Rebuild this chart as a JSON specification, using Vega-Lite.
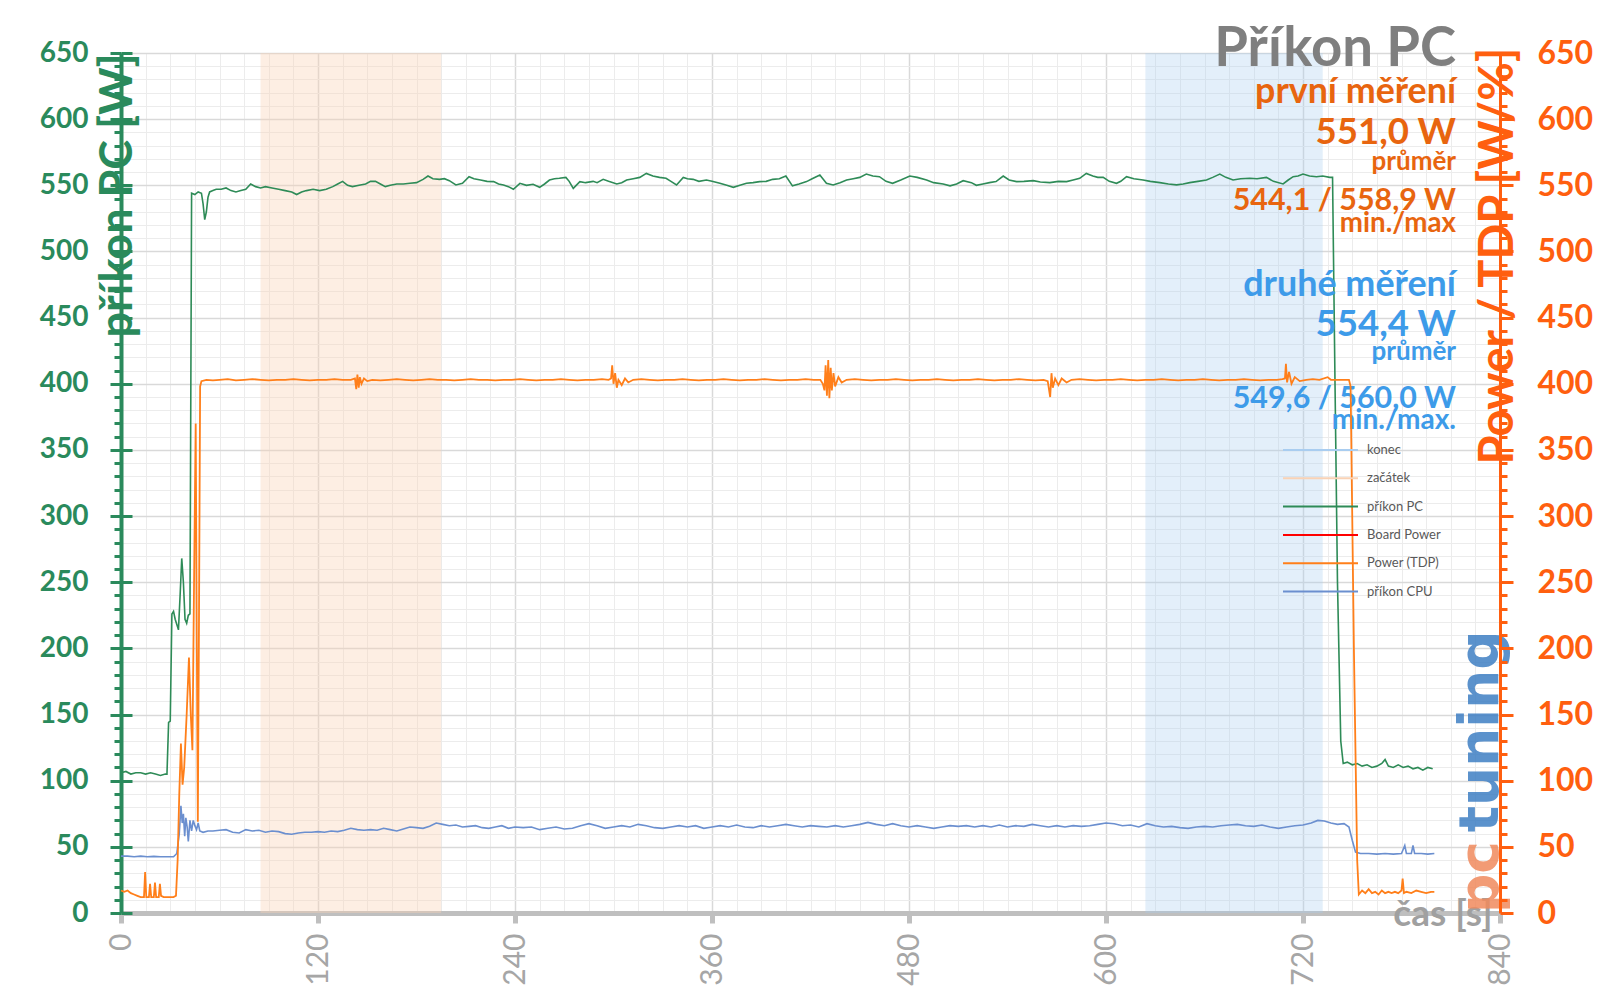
{
"$schema": "https://vega.github.io/schema/vega-lite/v6.json",
"width": 1379, "height": 860,
"autosize": {"type": "none"},
"padding": {"left": 121, "top": 53, "right": 100, "bottom": 95},
"background": "white",
"config": {"view": {"stroke": null}, "font": "Lato", "axis": {"labelFont": "Lato", "titleFont": "Lato"}},
"datasets": {
"one": [{"a": 0}],
"bands": [{"start": 85, "end": 195, "name": "začátek"}, {"start": 624, "end": 732, "name": "konec"}],
"pc": [
{"t":0,"v":106},{"t":3,"v":107},{"t":6,"v":105},{"t":9,"v":106},{"t":12,"v":106},{"t":15,"v":105},{"t":18,"v":106},{"t":21,"v":105},{"t":24,"v":104},{"t":27,"v":105},{"t":28,"v":105},{"t":29,"v":144},{"t":30,"v":145},{"t":31,"v":226},{"t":32,"v":228},{"t":33,"v":222},{"t":34,"v":218},{"t":35,"v":214},{"t":36,"v":240},{"t":37,"v":268},{"t":38,"v":250},{"t":39,"v":222},{"t":40,"v":219},{"t":41,"v":225},{"t":42,"v":226},{"t":43,"v":544},{"t":45,"v":543},{"t":47,"v":545},{"t":49,"v":544},{"t":50,"v":536},{"t":51,"v":524},{"t":52,"v":530},{"t":53,"v":541},{"t":54,"v":545},{"t":56,"v":546},{"t":58,"v":547},{"t":61,"v":547},{"t":64,"v":548},{"t":67,"v":546},{"t":70,"v":545},{"t":73,"v":546},{"t":76,"v":547},{"t":79,"v":551},{"t":82,"v":549},{"t":85,"v":548},{"t":88,"v":549},{"t":92,"v":548},{"t":96,"v":547},{"t":100,"v":546},{"t":104,"v":545},{"t":107,"v":543},{"t":110,"v":545},{"t":113,"v":546},{"t":117,"v":547},{"t":121,"v":546},{"t":125,"v":547},{"t":129,"v":549},{"t":132,"v":551},{"t":135,"v":553},{"t":138,"v":550},{"t":141,"v":549},{"t":145,"v":550},{"t":149,"v":551},{"t":152,"v":553},{"t":155,"v":553},{"t":158,"v":551},{"t":161,"v":549},{"t":164,"v":550},{"t":168,"v":551},{"t":172,"v":551},{"t":176,"v":551.5},{"t":180,"v":552},{"t":184,"v":554.5},{"t":187,"v":557},{"t":190,"v":555},{"t":194,"v":554.5},{"t":197,"v":555},{"t":200,"v":553.5},{"t":204,"v":550.3},{"t":208,"v":551.5},{"t":212,"v":556.5},{"t":215,"v":555},{"t":219,"v":554},{"t":223,"v":553},{"t":227,"v":552.8},{"t":230,"v":551},{"t":233,"v":550.3},{"t":236,"v":549},{"t":239,"v":547},{"t":243,"v":551.5},{"t":247,"v":550},{"t":251,"v":550.8},{"t":255,"v":548.5},{"t":258,"v":551},{"t":261,"v":554},{"t":264,"v":555},{"t":267,"v":555.3},{"t":271,"v":556},{"t":273,"v":553},{"t":275.5,"v":547.7},{"t":279.5,"v":552.8},{"t":283,"v":552},{"t":287.6,"v":553},{"t":290,"v":552},{"t":293.7,"v":554.5},{"t":297,"v":553},{"t":302,"v":551},{"t":305,"v":552},{"t":308,"v":554},{"t":312,"v":555},{"t":316,"v":556},{"t":320,"v":559},{"t":324,"v":557},{"t":328,"v":556},{"t":332,"v":555.3},{"t":335,"v":553},{"t":338.4,"v":550.3},{"t":342.5,"v":556},{"t":345,"v":555},{"t":348.5,"v":554.5},{"t":352,"v":553},{"t":356.6,"v":554},{"t":360,"v":553},{"t":364.8,"v":551.5},{"t":369,"v":550},{"t":373,"v":548.5},{"t":377,"v":550},{"t":381,"v":551.5},{"t":385,"v":552},{"t":389,"v":552.8},{"t":393,"v":553},{"t":397,"v":554.5},{"t":401,"v":555},{"t":405,"v":557},{"t":409,"v":549.6},{"t":413,"v":551},{"t":417.6,"v":552.8},{"t":421,"v":555},{"t":425.7,"v":557.8},{"t":429.7,"v":551.5},{"t":433.8,"v":550.3},{"t":438,"v":552},{"t":442,"v":554},{"t":446,"v":555},{"t":450,"v":556},{"t":454,"v":558.5},{"t":458,"v":557},{"t":462,"v":556.5},{"t":466,"v":553},{"t":470,"v":551.5},{"t":475,"v":554},{"t":480.5,"v":557},{"t":485,"v":556},{"t":490.7,"v":554},{"t":495,"v":552},{"t":500.8,"v":551},{"t":505,"v":549.6},{"t":509,"v":551},{"t":513,"v":553.5},{"t":518,"v":552},{"t":521,"v":550},{"t":525,"v":551},{"t":529,"v":552},{"t":533,"v":552.8},{"t":537.4,"v":557},{"t":541,"v":554},{"t":545.5,"v":552.8},{"t":550,"v":553},{"t":555.7,"v":553.5},{"t":560,"v":552.5},{"t":565.8,"v":552},{"t":571,"v":553},{"t":576,"v":552.8},{"t":580,"v":554},{"t":584,"v":555.3},{"t":588,"v":559},{"t":592,"v":557},{"t":595,"v":556},{"t":598.3,"v":556},{"t":602,"v":553},{"t":606.4,"v":551.5},{"t":609,"v":553},{"t":612.5,"v":556.5},{"t":617,"v":555},{"t":622.6,"v":554},{"t":627,"v":553},{"t":632.8,"v":552},{"t":638,"v":551},{"t":643,"v":550.3},{"t":647,"v":551},{"t":651,"v":552},{"t":656,"v":553},{"t":661.2,"v":554},{"t":665,"v":556},{"t":669.3,"v":558.5},{"t":673,"v":556},{"t":677.4,"v":554},{"t":682,"v":555},{"t":687.6,"v":555.3},{"t":692,"v":555},{"t":697.7,"v":556},{"t":702,"v":553},{"t":707.9,"v":551},{"t":711,"v":554},{"t":714,"v":556.5},{"t":717,"v":557},{"t":720,"v":558.5},{"t":724,"v":557},{"t":728.2,"v":556.5},{"t":732,"v":557},{"t":736.3,"v":556},{"t":738,"v":556},{"t":739.5,"v":400},{"t":741,"v":250},{"t":743,"v":130},{"t":744.5,"v":113},{"t":747,"v":114},{"t":750,"v":112},{"t":753,"v":113},{"t":756,"v":111},{"t":759,"v":112},{"t":762,"v":110},{"t":765,"v":111},{"t":768,"v":113},{"t":770,"v":116},{"t":772,"v":111},{"t":775,"v":110},{"t":778,"v":112},{"t":781,"v":110},{"t":784,"v":111},{"t":787,"v":109},{"t":790,"v":110},{"t":793,"v":108},{"t":796,"v":110},{"t":799,"v":109}
],
"tdp": [
{"t":0,"v":17},{"t":2,"v":16},{"t":4,"v":17},{"t":6,"v":15},{"t":8,"v":14},{"t":10,"v":13},{"t":12,"v":12},{"t":14,"v":12},{"t":14.7,"v":31},{"t":15.4,"v":12},{"t":17,"v":12},{"t":17.7,"v":22},{"t":18.4,"v":12},{"t":20,"v":12},{"t":20.7,"v":23},{"t":21.4,"v":12},{"t":23,"v":12},{"t":23.7,"v":22},{"t":24.4,"v":13},{"t":26,"v":12},{"t":28,"v":12},{"t":30,"v":12},{"t":32,"v":12},{"t":33.5,"v":13},{"t":34.5,"v":40},{"t":35.5,"v":90},{"t":36.5,"v":128},{"t":37.5,"v":97},{"t":38.5,"v":110},{"t":40,"v":150},{"t":41.4,"v":193},{"t":42.5,"v":150},{"t":43.5,"v":123},{"t":44.5,"v":250},{"t":45.5,"v":370},{"t":46.2,"v":200},{"t":46.8,"v":69},{"t":47.5,"v":220},{"t":48.2,"v":398},{"t":49,"v":402},{"t":52,"v":403},{"t":56,"v":402.5},{"t":60,"v":403},{"t":65,"v":403.5},{"t":70,"v":402.5},{"t":75,"v":403},{"t":80,"v":403.5},{"t":85,"v":403},{"t":90,"v":402.5},{"t":95,"v":403},{"t":100,"v":403},{"t":105,"v":403.5},{"t":110,"v":403},{"t":115,"v":402.5},{"t":120,"v":403},{"t":125,"v":403},{"t":130,"v":403.5},{"t":135,"v":403},{"t":140,"v":403},{"t":142.5,"v":404},{"t":143.3,"v":396},{"t":144,"v":407},{"t":144.8,"v":397},{"t":145.5,"v":405},{"t":146.5,"v":400},{"t":148,"v":404},{"t":150,"v":402},{"t":153,"v":403},{"t":158,"v":402.5},{"t":163,"v":403},{"t":168,"v":403.5},{"t":173,"v":403},{"t":178,"v":402.5},{"t":183,"v":403},{"t":188,"v":403.5},{"t":193,"v":403},{"t":198,"v":403},{"t":203,"v":402.5},{"t":208,"v":403},{"t":213,"v":403.5},{"t":218,"v":403},{"t":223,"v":403},{"t":228,"v":402.5},{"t":233,"v":403},{"t":238,"v":403},{"t":243,"v":403.5},{"t":248,"v":403},{"t":253,"v":402.5},{"t":258,"v":403},{"t":263,"v":403},{"t":268,"v":403.5},{"t":273,"v":403},{"t":278,"v":402.5},{"t":283,"v":403},{"t":288,"v":403},{"t":293,"v":403.5},{"t":297,"v":403},{"t":298.5,"v":404},{"t":299.2,"v":414},{"t":300,"v":400},{"t":301,"v":408},{"t":302,"v":397},{"t":303,"v":403},{"t":305,"v":399},{"t":307,"v":404},{"t":309,"v":401},{"t":312,"v":403},{"t":317,"v":403.5},{"t":322,"v":403},{"t":327,"v":402.5},{"t":332,"v":403},{"t":337,"v":403},{"t":342,"v":403.5},{"t":347,"v":403},{"t":352,"v":402.5},{"t":357,"v":403},{"t":362,"v":403},{"t":367,"v":403.5},{"t":372,"v":403},{"t":377,"v":402.5},{"t":382,"v":403},{"t":387,"v":403},{"t":392,"v":403.5},{"t":397,"v":403},{"t":402,"v":402.5},{"t":407,"v":403},{"t":412,"v":403},{"t":417,"v":403.5},{"t":422,"v":403},{"t":426,"v":403},{"t":427.5,"v":400},{"t":428.5,"v":395},{"t":429.2,"v":414},{"t":430,"v":391},{"t":430.8,"v":418},{"t":431.5,"v":389},{"t":432.3,"v":412},{"t":433,"v":395},{"t":434,"v":408},{"t":435,"v":398},{"t":437,"v":405},{"t":439,"v":401},{"t":442,"v":403},{"t":447,"v":403.5},{"t":452,"v":403},{"t":457,"v":402.5},{"t":462,"v":403},{"t":467,"v":403},{"t":472,"v":403.5},{"t":477,"v":403},{"t":482,"v":402.5},{"t":487,"v":403},{"t":492,"v":403},{"t":497,"v":403.5},{"t":502,"v":403},{"t":507,"v":402.5},{"t":512,"v":403},{"t":517,"v":403},{"t":522,"v":403.5},{"t":527,"v":403},{"t":532,"v":402.5},{"t":537,"v":403},{"t":542,"v":403},{"t":547,"v":403.5},{"t":552,"v":403},{"t":557,"v":402.5},{"t":562,"v":403},{"t":564.5,"v":402},{"t":566,"v":390},{"t":566.8,"v":408},{"t":567.6,"v":397},{"t":569,"v":404},{"t":571,"v":399},{"t":573,"v":404},{"t":576,"v":401},{"t":579,"v":403},{"t":584,"v":403.5},{"t":589,"v":403},{"t":594,"v":402.5},{"t":599,"v":403},{"t":604,"v":403},{"t":609,"v":403.5},{"t":614,"v":403},{"t":619,"v":402.5},{"t":624,"v":403},{"t":629,"v":403},{"t":634,"v":403.5},{"t":639,"v":403},{"t":644,"v":402.5},{"t":649,"v":403},{"t":654,"v":403},{"t":659,"v":403.5},{"t":664,"v":403},{"t":669,"v":402.5},{"t":674,"v":403},{"t":679,"v":403},{"t":684,"v":403.5},{"t":689,"v":403},{"t":694,"v":402.5},{"t":699,"v":403},{"t":704,"v":403},{"t":707.5,"v":403.5},{"t":709,"v":404},{"t":709.6,"v":415},{"t":710.3,"v":401},{"t":711.5,"v":409},{"t":713,"v":400},{"t":715,"v":405},{"t":718,"v":402},{"t":722,"v":403},{"t":726,"v":403.5},{"t":730,"v":403},{"t":735,"v":405},{"t":737,"v":403},{"t":741,"v":403},{"t":745,"v":403},{"t":748,"v":403},{"t":749,"v":398},{"t":751,"v":200},{"t":753,"v":40},{"t":754,"v":14},{"t":756,"v":17},{"t":758,"v":15},{"t":760,"v":18},{"t":762,"v":15},{"t":764,"v":16},{"t":766,"v":14},{"t":768,"v":17},{"t":770,"v":15},{"t":772,"v":16},{"t":774,"v":15},{"t":776,"v":16},{"t":778,"v":15},{"t":780,"v":17},{"t":780.7,"v":26},{"t":781.5,"v":15},{"t":783,"v":16},{"t":786,"v":15},{"t":789,"v":17},{"t":792,"v":16},{"t":795,"v":15},{"t":798,"v":16},{"t":800,"v":16}
],
"cpu": [
{"t":0,"v":43},{"t":4,"v":43},{"t":8,"v":42.5},{"t":12,"v":43},{"t":16,"v":42.5},{"t":20,"v":42.8},{"t":24,"v":42.5},{"t":28,"v":42.5},{"t":32,"v":42.5},{"t":34,"v":45},{"t":35.5,"v":60},{"t":36.5,"v":81},{"t":37.3,"v":68},{"t":38,"v":75},{"t":38.8,"v":58},{"t":39.5,"v":72},{"t":40.3,"v":65},{"t":41,"v":54},{"t":42,"v":70},{"t":43,"v":62},{"t":44,"v":70},{"t":45,"v":66},{"t":46,"v":63},{"t":47,"v":68},{"t":48,"v":62},{"t":50,"v":61},{"t":53,"v":62},{"t":56,"v":62},{"t":60,"v":62.5},{"t":64,"v":63},{"t":68,"v":61},{"t":72,"v":60.5},{"t":76,"v":63},{"t":80,"v":62},{"t":84,"v":62.5},{"t":88,"v":61},{"t":92,"v":62},{"t":96,"v":61.5},{"t":100,"v":60},{"t":104,"v":59.5},{"t":108,"v":60.5},{"t":112,"v":61},{"t":116,"v":61},{"t":120,"v":61.5},{"t":124,"v":61},{"t":128,"v":62},{"t":132,"v":61.5},{"t":136,"v":62.5},{"t":140,"v":64},{"t":144,"v":63},{"t":148,"v":62.5},{"t":152,"v":63},{"t":156,"v":62.5},{"t":160,"v":64},{"t":164,"v":63},{"t":168,"v":62},{"t":172,"v":63.5},{"t":176,"v":65},{"t":180,"v":64.5},{"t":184,"v":64},{"t":188,"v":65.5},{"t":192,"v":68},{"t":196,"v":67},{"t":200,"v":66},{"t":204,"v":66.5},{"t":208,"v":65},{"t":212,"v":65.5},{"t":216,"v":66},{"t":220,"v":64.5},{"t":224,"v":64},{"t":228,"v":65},{"t":232,"v":66},{"t":236,"v":64},{"t":240,"v":65},{"t":245,"v":64.5},{"t":250,"v":65},{"t":255,"v":63},{"t":260,"v":64},{"t":265,"v":65},{"t":270,"v":63.5},{"t":275,"v":64},{"t":280,"v":66},{"t":285,"v":67.5},{"t":290,"v":66},{"t":295,"v":64},{"t":300,"v":65},{"t":305,"v":66},{"t":310,"v":65},{"t":315,"v":67},{"t":320,"v":66},{"t":325,"v":64.5},{"t":330,"v":64},{"t":335,"v":65},{"t":340,"v":66},{"t":345,"v":65},{"t":350,"v":66},{"t":355,"v":64},{"t":360,"v":65},{"t":365,"v":66},{"t":370,"v":65},{"t":375,"v":66.5},{"t":380,"v":65},{"t":385,"v":64.5},{"t":390,"v":66},{"t":395,"v":65},{"t":400,"v":66},{"t":405,"v":67},{"t":410,"v":66},{"t":415,"v":65},{"t":420,"v":66},{"t":425,"v":65.5},{"t":430,"v":65},{"t":435,"v":66},{"t":440,"v":65},{"t":445,"v":66},{"t":450,"v":67},{"t":455,"v":68.5},{"t":460,"v":67},{"t":465,"v":66},{"t":470,"v":67.5},{"t":475,"v":66},{"t":480,"v":65},{"t":485,"v":66},{"t":490,"v":65},{"t":495,"v":64},{"t":500,"v":65},{"t":505,"v":66},{"t":510,"v":65.5},{"t":515,"v":66},{"t":520,"v":65},{"t":525,"v":66},{"t":530,"v":65},{"t":535,"v":66.5},{"t":540,"v":65},{"t":545,"v":66},{"t":550,"v":65.5},{"t":555,"v":67},{"t":560,"v":66},{"t":565,"v":65},{"t":570,"v":66},{"t":575,"v":65},{"t":580,"v":66},{"t":585,"v":65.5},{"t":590,"v":66},{"t":595,"v":67},{"t":600,"v":68},{"t":605,"v":67.5},{"t":610,"v":66},{"t":615,"v":66.5},{"t":620,"v":65},{"t":625,"v":67.5},{"t":630,"v":66},{"t":635,"v":65},{"t":640,"v":65.5},{"t":645,"v":64.5},{"t":650,"v":64},{"t":655,"v":65},{"t":660,"v":65.5},{"t":665,"v":65},{"t":670,"v":66},{"t":675,"v":66.5},{"t":680,"v":67},{"t":685,"v":66},{"t":690,"v":65.5},{"t":695,"v":66.5},{"t":700,"v":65},{"t":705,"v":64},{"t":710,"v":65},{"t":715,"v":66},{"t":720,"v":66.5},{"t":725,"v":68},{"t":729,"v":70},{"t":733,"v":69.5},{"t":737,"v":68},{"t":741,"v":67},{"t":745,"v":67.5},{"t":748,"v":65},{"t":750,"v":55},{"t":752,"v":46},{"t":755,"v":45},{"t":760,"v":45},{"t":765,"v":44.5},{"t":770,"v":45},{"t":775,"v":44.5},{"t":780,"v":45},{"t":782,"v":51},{"t":783,"v":45},{"t":786,"v":45},{"t":787,"v":51},{"t":788,"v":45},{"t":792,"v":45},{"t":796,"v":44.5},{"t":800,"v":45}
]
},
"layer": [
{
"data": {"name": "one"},
"mark": {"type": "point", "opacity": 0},
"encoding": {
"x": {"datum": 0, "type": "quantitative", "scale": {"domain": [0, 840], "nice": false},
 "axis": {"orient": "bottom", "values": [15,30,45,60,75,90,105,135,150,165,180,195,210,225,255,270,285,300,315,330,345,375,390,405,420,435,450,465,495,510,525,540,555,570,585,615,630,645,660,675,690,705,735,750,765,780,795,810,825], "grid": true, "gridColor": "#ececec", "gridWidth": 1, "labels": false, "ticks": false, "domain": false, "title": null}},
"y": {"datum": 0, "type": "quantitative", "scale": {"domain": [0, 650], "nice": false},
 "axis": {"orient": "left", "values": [10,20,30,40,60,70,80,90,110,120,130,140,160,170,180,190,210,220,230,240,260,270,280,290,310,320,330,340,360,370,380,390,410,420,430,440,460,470,480,490,510,520,530,540,560,570,580,590,610,620,630,640], "grid": true, "gridColor": "#ececec", "gridWidth": 1, "labels": false, "ticks": true, "tickSize": 7, "tickWidth": 3, "tickColor": "#2a8a5c", "domain": false, "title": null}}
}
},
{
"layer": [
{"data": {"name": "bands"}, "transform": [{"filter": "datum.name == 'začátek'"}],
 "mark": {"type": "rect", "color": "#f9d2b5", "opacity": 0.38},
 "encoding": {"x": {"field": "start", "type": "quantitative"}, "x2": {"field": "end"}}},
{"data": {"name": "bands"}, "transform": [{"filter": "datum.name == 'konec'"}],
 "mark": {"type": "rect", "color": "#a9cdf0", "opacity": 0.32},
 "encoding": {"x": {"field": "start", "type": "quantitative"}, "x2": {"field": "end"}}},
{"data": {"name": "one"}, "mark": {"type": "text", "align": "left", "baseline": "alphabetic", "angle": 270, "font": "DejaVu Sans", "fontWeight": "bold", "fontSize": 55, "color": "#f08a5d", "opacity": 0.85},
 "encoding": {"x": {"datum": 839, "type": "quantitative"}, "y": {"datum": 0, "type": "quantitative"}, "text": {"value": "pc"}}},
{"data": {"name": "one"}, "mark": {"type": "text", "align": "left", "baseline": "alphabetic", "angle": 270, "font": "DejaVu Sans", "fontWeight": "bold", "fontSize": 55, "color": "#3f7fc4", "opacity": 0.85},
 "encoding": {"x": {"datum": 839, "type": "quantitative"}, "y": {"datum": 61, "type": "quantitative"}, "text": {"value": "tuning"}}},
{"data": {"name": "cpu"}, "mark": {"type": "line", "strokeWidth": 1.6},
 "encoding": {"x": {"field": "t", "type": "quantitative"}, "y": {"field": "v", "type": "quantitative"},
  "color": {"datum": "příkon CPU", "type": "nominal"}}},
{"data": {"name": "pc"}, "mark": {"type": "line", "strokeWidth": 1.6},
 "encoding": {"x": {"field": "t", "type": "quantitative"}, "y": {"field": "v", "type": "quantitative"},
  "color": {"datum": "příkon PC", "type": "nominal",
   "scale": {"domain": ["konec", "začátek", "příkon PC", "Board Power", "Power (TDP)", "příkon CPU"], "range": ["#a9cdf0", "#f9d2b5", "#2e8b57", "#ff0000", "#ff7f1a", "#6b8fcf"]},
   "legend": {"orient": "none", "legendX": 1188.5, "legendY": 386, "title": null, "direction": "vertical", "symbolType": "M-3.75,0H3.75", "symbolSize": 400, "symbolStrokeWidth": 2, "rowPadding": 10.3, "labelOffset": 35.5, "labelFontSize": 13, "labelColor": "#595959", "labelFont": "Lato", "padding": 0}}}},
{"data": {"name": "one"}, "mark": {"type": "text", "align": "right", "baseline": "alphabetic", "font": "Lato", "fontWeight": "bold", "fontSize": 54.5, "color": "#7f7f7f"},
 "encoding": {"x": {"datum": 813.2, "type": "quantitative"}, "y": {"datum": 640, "type": "quantitative"}, "text": {"value": "Příkon PC"}}},
{"data": {"name": "one"}, "mark": {"type": "text", "align": "right", "baseline": "alphabetic", "font": "Lato", "fontWeight": "bold", "fontSize": 35.8, "color": "#e8650f"},
 "encoding": {"x": {"datum": 813.2, "type": "quantitative"}, "y": {"datum": 612.5, "type": "quantitative"}, "text": {"value": "první měření"}}},
{"data": {"name": "one"}, "mark": {"type": "text", "align": "right", "baseline": "alphabetic", "font": "Lato", "fontWeight": "bold", "fontSize": 36.6, "color": "#e8650f"},
 "encoding": {"x": {"datum": 813.2, "type": "quantitative"}, "y": {"datum": 581, "type": "quantitative"}, "text": {"value": "551,0 W"}}},
{"data": {"name": "one"}, "mark": {"type": "text", "align": "right", "baseline": "alphabetic", "font": "Lato", "fontWeight": "bold", "fontSize": 26, "color": "#e8650f"},
 "encoding": {"x": {"datum": 813.2, "type": "quantitative"}, "y": {"datum": 561.5, "type": "quantitative"}, "text": {"value": "průměr"}}},
{"data": {"name": "one"}, "mark": {"type": "text", "align": "right", "baseline": "alphabetic", "font": "Lato", "fontWeight": "bold", "fontSize": 30.4, "color": "#e8650f"},
 "encoding": {"x": {"datum": 813.2, "type": "quantitative"}, "y": {"datum": 531, "type": "quantitative"}, "text": {"value": "544,1 / 558,9 W"}}},
{"data": {"name": "one"}, "mark": {"type": "text", "align": "right", "baseline": "alphabetic", "font": "Lato", "fontWeight": "bold", "fontSize": 27.7, "color": "#e8650f"},
 "encoding": {"x": {"datum": 813.2, "type": "quantitative"}, "y": {"datum": 515, "type": "quantitative"}, "text": {"value": "min./max"}}},
{"data": {"name": "one"}, "mark": {"type": "text", "align": "right", "baseline": "alphabetic", "font": "Lato", "fontWeight": "bold", "fontSize": 35.9, "color": "#3d9be9"},
 "encoding": {"x": {"datum": 813.2, "type": "quantitative"}, "y": {"datum": 466, "type": "quantitative"}, "text": {"value": "druhé měření"}}},
{"data": {"name": "one"}, "mark": {"type": "text", "align": "right", "baseline": "alphabetic", "font": "Lato", "fontWeight": "bold", "fontSize": 36.6, "color": "#3d9be9"},
 "encoding": {"x": {"datum": 813.2, "type": "quantitative"}, "y": {"datum": 436, "type": "quantitative"}, "text": {"value": "554,4 W"}}},
{"data": {"name": "one"}, "mark": {"type": "text", "align": "right", "baseline": "alphabetic", "font": "Lato", "fontWeight": "bold", "fontSize": 26, "color": "#3d9be9"},
 "encoding": {"x": {"datum": 813.2, "type": "quantitative"}, "y": {"datum": 418, "type": "quantitative"}, "text": {"value": "průměr"}}},
{"data": {"name": "one"}, "mark": {"type": "text", "align": "right", "baseline": "alphabetic", "font": "Lato", "fontWeight": "bold", "fontSize": 30.4, "color": "#3d9be9"},
 "encoding": {"x": {"datum": 813.2, "type": "quantitative"}, "y": {"datum": 382, "type": "quantitative"}, "text": {"value": "549,6 / 560,0 W"}}},
{"data": {"name": "one"}, "mark": {"type": "text", "align": "right", "baseline": "alphabetic", "font": "Lato", "fontWeight": "bold", "fontSize": 28, "color": "#3d9be9"},
 "encoding": {"x": {"datum": 813.2, "type": "quantitative"}, "y": {"datum": 365.5, "type": "quantitative"}, "text": {"value": "min./max."}}}
],
"encoding": {
"x": {"scale": {"domain": [0, 840], "nice": false},
 "axis": {"orient": "bottom", "values": [0,120,240,360,480,600,720,840], "labelAngle": 270, "labelFontSize": 30, "labelColor": "#a6a6a6", "labelPadding": 10, "labelFlush": false, "labelOverlap": false, "tickSize": 10, "tickWidth": 5, "tickColor": "#bfbfbf", "domainColor": "#bfbfbf", "domainWidth": 5, "grid": true, "gridColor": "#d9d9d9", "gridWidth": 1.5,
  "title": "čas [s]", "titleX": 1371, "titleY": 12, "titleAlign": "right", "titleBaseline": "alphabetic", "titleAngle": 0, "titleFontSize": 37, "titleColor": "#a0a0a0", "titleFontWeight": "bold"}},
"y": {"scale": {"domain": [0, 650], "nice": false},
 "axis": {"orient": "left", "values": [0,50,100,150,200,250,300,350,400,450,500,550,600,650], "labelFontSize": 28, "labelFontWeight": "bold", "labelColor": "#2a8a5c", "labelPadding": 22, "tickSize": 11, "tickWidth": 3, "tickColor": "#2a8a5c", "domainColor": "#2a8a5c", "domainWidth": 4, "grid": true, "gridColor": "#d9d9d9", "gridWidth": 1.5,
  "title": "příkon PC [W]", "titleAngle": 270, "titleX": 10, "titleY": 284, "titleAlign": "left", "titleBaseline": "alphabetic", "titleFontSize": 45, "titleColor": "#2a8a5c", "titleFontWeight": "bold"}}
}
},
{
"data": {"name": "tdp"},
"mark": {"type": "line", "strokeWidth": 1.8},
"encoding": {
"x": {"field": "t", "type": "quantitative", "scale": {"domain": [0, 840], "nice": false}, "axis": null},
"y": {"field": "v", "type": "quantitative", "scale": {"domain": [0, 650], "nice": false},
 "axis": {"orient": "right", "zindex": 1, "values": [0,50,100,150,200,250,300,350,400,450,500,550,600,650], "labelFontSize": 32, "labelFontWeight": "bold", "labelColor": "#ff5f0f", "labelPadding": 24, "tickSize": 13, "tickWidth": 3, "tickColor": "#ff5f0f", "domainColor": "#ff5f0f", "domainWidth": 3, "grid": false,
  "title": "Power / TDP [W/%]", "titleAngle": 270, "titleX": 12, "titleY": 411, "titleAlign": "left", "titleBaseline": "alphabetic", "titleFontSize": 47, "titleColor": "#ff5f0f", "titleFontWeight": "bold"}},
"color": {"datum": "Power (TDP)", "type": "nominal"}
}
},
{
"data": {"name": "one"},
"mark": {"type": "point", "opacity": 0},
"encoding": {
"x": {"datum": 0, "type": "quantitative", "scale": {"domain": [0, 840], "nice": false}, "axis": null},
"y": {"datum": 0, "type": "quantitative", "scale": {"domain": [0, 650], "nice": false},
 "axis": {"orient": "right", "zindex": 1, "values": [10,20,30,40,60,70,80,90,110,120,130,140,160,170,180,190,210,220,230,240,260,270,280,290,310,320,330,340,360,370,380,390,410,420,430,440,460,470,480,490,510,520,530,540,560,570,580,590,610,620,630,640], "grid": false, "labels": false, "ticks": true, "tickSize": 7, "tickWidth": 3, "tickColor": "#ff5f0f", "domain": false, "title": null}}
}
},
{
"data": {"name": "one"},
"mark": {"type": "point", "opacity": 0},
"encoding": {
"x": {"datum": 0, "type": "quantitative", "scale": {"domain": [0, 840], "nice": false}, "axis": null},
"y": {"datum": 0, "type": "quantitative", "scale": {"domain": [0, 650], "nice": false},
 "axis": {"orient": "left", "values": [0,50,100,150,200,250,300,350,400,450,500,550,600,650], "grid": false, "labels": false, "ticks": true, "tickSize": -11, "tickWidth": 3, "tickColor": "#2a8a5c", "domain": false, "title": null}}
}
}
],
"resolve": {"scale": {"x": "independent", "y": "independent"}}
}
